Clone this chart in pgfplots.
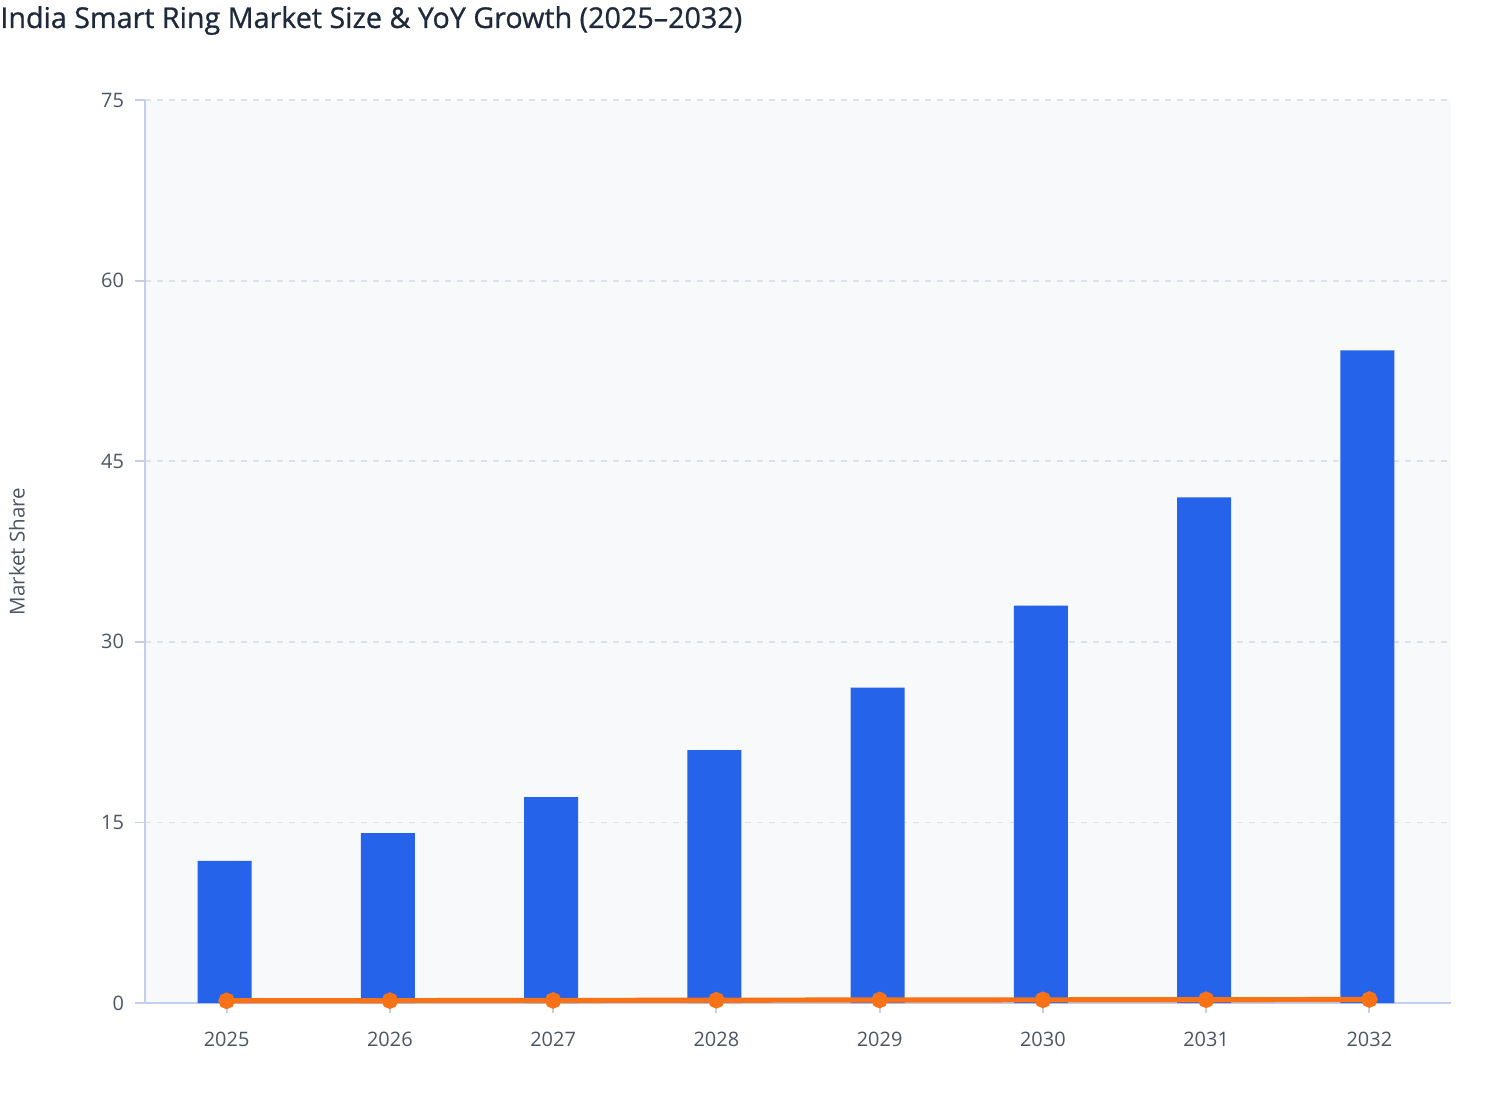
\documentclass[border=0pt]{standalone}
\usepackage{fontspec}
\setmainfont{Open Sans}
\newfontfamily\titlefont[FakeBold=0.8]{Open Sans}
\usepackage{pgfplots}
\pgfplotsset{compat=1.18}

\definecolor{barblue}{HTML}{2563EB}
\definecolor{lineorange}{HTML}{F97316}
\definecolor{plotbg}{HTML}{F8F9FB}
\definecolor{gridgray}{HTML}{DDE1E8}
\definecolor{axisblue}{HTML}{C3CEF0}
\definecolor{ticktext}{HTML}{4B5563}
\definecolor{titletext}{HTML}{1E293B}

\begin{document}
\begin{tikzpicture}
\begin{axis}[
    scale only axis,
    width=653bp,
    height=451.5bp,
    at={(0,0)}, anchor=south west,
    xmin=-0.5, xmax=7.5,
    ymin=0, ymax=75,
    xtick={0,...,7},
    xticklabels={2025,2026,2027,2028,2029,2030,2031,2032},
    ytick={0,15,30,45,60,75},
    axis background/.style={fill=plotbg},
    ymajorgrids=true,
    grid style={gridgray, dash pattern=on 3bp off 3bp, line width=0.9bp},
    axis x line*=bottom,
    axis y line*=left,
    axis line style={axisblue, line width=0.9bp},
    x axis line style={-},
    y axis line style={-},
    tick style={axisblue, line width=0.9bp},
    tick align=outside,
    major tick length=5bp,
    tick label style={font=\fontsize{10}{12}\selectfont, text=ticktext},
    xticklabel style={yshift=-6bp},
    yticklabel style={xshift=-2bp},
    /pgf/number format/assume math mode=true,
    clip=false,
]

% Market size (bars)
\addplot[ybar, bar width=27bp, bar shift=-1bp, fill=barblue, draw=none] coordinates {
    (0, 11.8)
    (1, 14.1)
    (2, 17.1)
    (3, 21.0)
    (4, 26.2)
    (5, 33.0)
    (6, 42.0)
    (7, 54.2)
};

% YoY growth (line)
\addplot[color=lineorange, line width=2.6bp, mark=*, mark size=2.8bp,
         mark options={fill=lineorange, draw=none}] coordinates {
    (0, 0.18)
    (1, 0.195)
    (2, 0.21)
    (3, 0.23)
    (4, 0.25)
    (5, 0.26)
    (6, 0.27)
    (7, 0.29)
};

\end{axis}

% title and y label
\node[anchor=base west, inner sep=0pt, text=titletext,
      font=\titlefont\fontsize{14.4}{16}\selectfont] at (-72.5bp,487.5bp)
      {India Smart Ring Market Size \& YoY Growth (2025–2032)};
\node[rotate=90, inner sep=0pt, text=ticktext,
      font=\fontsize{10.3}{12}\selectfont] at (-64bp,225.75bp) {Market Share};

\pgfresetboundingbox
\path[use as bounding box] (-72.5bp,-58.5bp) rectangle (681.5bp,501.5bp);
\end{tikzpicture}
\end{document}
